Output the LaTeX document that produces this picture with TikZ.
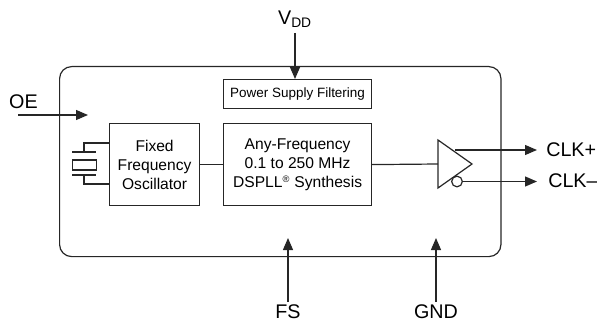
\documentclass[tikz,border=0pt]{standalone}
\usepackage{fontspec}
\setmainfont{Liberation Sans}
\usetikzlibrary{arrows.meta}
\tikzset{
  x=0.75pt,y=-0.75pt,
  line/.style={draw=black!85,line width=0.9pt},
  sig/.style={line,-{Triangle[length=9pt,width=7.5pt]}},
  blockbox/.style={line,anchor=north west,inner sep=0pt,align=center,font=\fontsize{11.7}{14.25}\selectfont},
  lbl/.style={inner sep=0pt,font=\fontsize{14.8}{16}\selectfont},
}
\begin{document}
\begin{tikzpicture}
\useasboundingbox (0,0) rectangle (597,321);
\node[line,anchor=north west,inner sep=0pt,minimum width=331pt,minimum height=142.5pt,rounded corners=9pt] (main) at (59,66) {};
\node[blockbox,minimum width=111pt,minimum height=21.75pt,font=\fontsize{10.1}{12}\selectfont] (psf) at (223,79) {Power Supply Filtering};
\node[blockbox,minimum width=67.5pt,minimum height=61.5pt] (osc) at (109,123) {Fixed\\Frequency\\Oscillator};
\node[blockbox,minimum width=111pt,minimum height=61.5pt] (syn) at (223,123) {Any-Frequency\\0.1 to 250 MHz\\DSPLL\textsuperscript{\raisebox{-0.2ex}{\scriptsize®}} Synthesis};
\draw[line] (osc.east) -- (syn.west);
% crystal
\node[line,anchor=north west,inner sep=0pt,minimum width=18pt,minimum height=7.5pt] (xtal) at (72,159.5) {};
\coordinate (pt1) at (72,152); \coordinate (pt2) at (96,152);
\coordinate (pb1) at (72,175); \coordinate (pb2) at (96,175);
\draw[line] (pt1) -- (pt2);
\draw[line] (pb1) -- (pb2);
\coordinate (lt) at (84,152); \coordinate (lb) at (84,175);
\coordinate (ot) at (109,143); \coordinate (ob) at (109,184);
\draw[line] (lt) |- (ot);
\draw[line] (lb) |- (ob);
% buffer
\coordinate (ba) at (438,140); \coordinate (bb) at (472,164); \coordinate (bc) at (438,188);
\coordinate (bin) at (438,164);
\draw[line] (ba) -- (bb) -- (bc) -- cycle;
\draw[line] (syn.east) -- (bin);
\node[line,circle,fill=white,inner sep=0pt,minimum size=8pt] (bub) at (457,181.5) {};
% labels
\node[lbl,anchor=center] (vdd) at (295,19) {V\textsubscript{DD}};
\node[lbl,anchor=center] (oe) at (23.5,102) {OE};
\node[lbl,anchor=center] (fs) at (288,311.5) {FS};
\node[lbl,anchor=center] (gnd) at (436,311.5) {GND};
\node[lbl,anchor=west] (cp) at (546,150) {CLK+};
\node[lbl,anchor=west] (cm) at (548,181) {CLK–};
\coordinate (oes) at (18,115); \coordinate (oee) at (88,115);
\coordinate (vds) at (295,33);
\coordinate (fse) at (288,238); \coordinate (fss) at (288,302);
\coordinate (gne) at (436,238); \coordinate (gns) at (436,302);
\coordinate (cps) at (455,150); \coordinate (cpe) at (537,150);
\coordinate (cme) at (537,181.5);
\draw[sig] (oes) -- (oee);
\draw[sig] (vds) -- (vds |- psf.north);
\draw[sig] (fss) -- (fse);
\draw[sig] (gns) -- (gne);
\draw[sig] (cps) -- (cpe);
\draw[sig] (bub.east) -- (cme);
\end{tikzpicture}
\end{document}
